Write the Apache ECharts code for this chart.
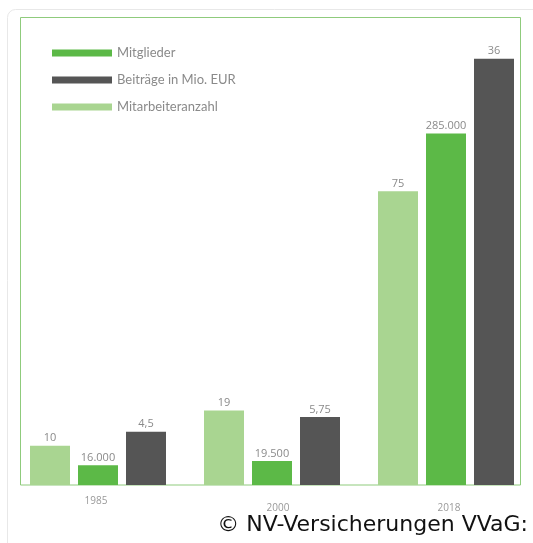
<!DOCTYPE html>
<html>
<head>
<meta charset="utf-8">
<script src="https://cdn.jsdelivr.net/npm/echarts@6/dist/echarts.min.js"></script>
<style>
html,body{margin:0;padding:0;background:#fff;}
#chart{width:533px;height:543px;}
</style>
</head>
<body>
<div id="chart"></div>
<script>
var years = ['1985', '2000', '2018'];
var employees = [10, 19, 75];          // Mitarbeiteranzahl
var members = [16000, 19500, 285000];  // Mitglieder
var premiums = [4.5, 5.75, 36];        // Beiträge in Mio. EUR
var seriesNames = ['Mitarbeiteranzahl', 'Mitglieder', 'Beiträge in Mio. EUR'];
var legendOrder = ['Mitglieder', 'Beiträge in Mio. EUR', 'Mitarbeiteranzahl'];
var copyright = '© NV-Versicherungen VVaG:';

function fmtThousands(v) {
  return String(v).replace(/\B(?=(\d{3})+(?!\d))/g, '.');
}
function fmtDecimal(v) {
  return String(v).replace('.', ',');
}

var labelStyle = {
  show: true,
  position: 'top',
  distance: 2,
  color: '#8a8a8a',
  fontSize: 11,
  fontFamily: 'Open Sans'
};

var chart = echarts.init(document.getElementById('chart'), null, {renderer: 'canvas'});
chart.setOption({
  animation: false,
  backgroundColor: '#fff',
  legend: {
    data: legendOrder,
    orient: 'vertical',
    left: 52,
    top: 46,
    padding: 0,
    icon: 'rect',
    itemWidth: 60,
    itemHeight: 7,
    itemGap: 13,
    selectedMode: false,
    textStyle: {color: '#8a8a8a', fontSize: 13, fontFamily: 'Lato', lineHeight: 14}
  },
  grid: {left: 11, right: 0, top: 15, bottom: 58, containLabel: false},
  xAxis: {
    type: 'category',
    data: years,
    axisLine: {show: false},
    axisTick: {show: false},
    axisLabel: {
      margin: 11,
      color: '#999',
      fontSize: 10,
      fontFamily: 'Open Sans',
      formatter: function (v, i) { return '{c' + i + '|' + v + '}'; },
      rich: {
        c0: {padding: [0, 4, 0, 0], fontSize: 10, color: '#999'},
        c1: {padding: [7, 0, 0, 12], fontSize: 10, color: '#999'},
        c2: {padding: [7, 0, 0, 6], fontSize: 10, color: '#999'}
      }
    }
  },
  yAxis: [
    {type: 'value', min: 0, max: 120, show: false},
    {type: 'value', min: 0, max: 381000, show: false},
    {type: 'value', min: 0, max: 39.7, show: false}
  ],
  series: [
    {
      name: seriesNames[0], type: 'bar', yAxisIndex: 0, data: employees,
      barWidth: 40, barGap: '20%',
      itemStyle: {color: '#a9d591'},
      label: labelStyle
    },
    {
      name: seriesNames[1], type: 'bar', yAxisIndex: 1, data: members,
      barWidth: 40, barGap: '20%',
      itemStyle: {color: '#5cb947'},
      label: Object.assign({}, labelStyle, {formatter: function (p) { return fmtThousands(p.value); }})
    },
    {
      name: seriesNames[2], type: 'bar', yAxisIndex: 2, data: premiums,
      barWidth: 40, barGap: '20%',
      itemStyle: {color: '#555555'},
      label: Object.assign({}, labelStyle, {formatter: function (p) { return fmtDecimal(p.value); }})
    }
  ],
  graphic: [
    {
      type: 'rect', z: -10, silent: true,
      shape: {x: 7.5, y: 9.5, width: 700, height: 700, r: 8},
      style: {fill: 'none', stroke: '#e8e8e8', lineWidth: 1}
    },
    {
      type: 'rect', z: -5, silent: true,
      shape: {x: 20.5, y: 17.5, width: 500, height: 467.5},
      style: {fill: 'none', stroke: '#8fcb7c', lineWidth: 1}
    },
    {
      type: 'text', silent: true,
      style: {
        text: copyright, x: 528, y: 525,
        textAlign: 'right', textVerticalAlign: 'middle',
        font: '22px "DejaVu Sans"', fill: '#111'
      }
    }
  ]
});
</script>
</body>
</html>
